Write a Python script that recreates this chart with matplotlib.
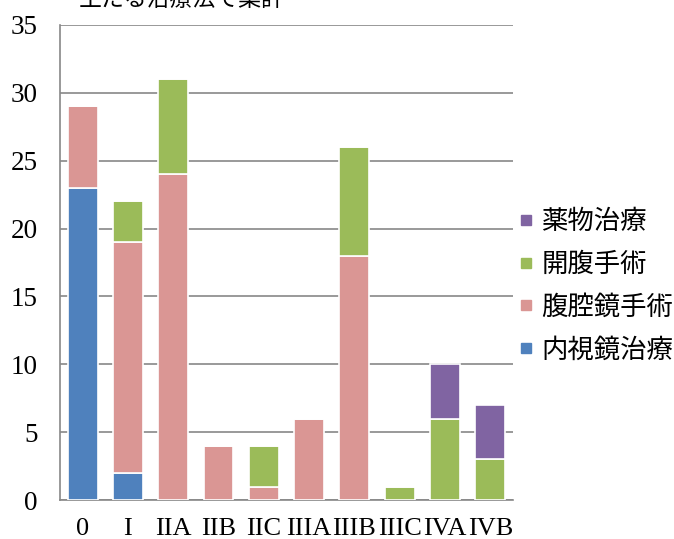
import numpy as np
import matplotlib
matplotlib.use('Agg')
from matplotlib import pyplot as plt
from matplotlib.lines import Line2D

plt.rcParams['font.family'] = ['Noto Sans CJK JP', 'DejaVu Sans']

stages = ['0', 'I', 'IIA', 'IIB', 'IIC', 'IIIA', 'IIIB', 'IIIC', 'IVA', 'IVB']
naishikyo = [23, 2, 0, 0, 0, 0, 0, 0, 0, 0]
fukukukyo = [6, 17, 24, 4, 1, 6, 18, 0, 0, 0]
kaifuku = [0, 3, 7, 0, 3, 0, 8, 1, 6, 3]
yakubutsu = [0, 0, 0, 0, 0, 0, 0, 0, 4, 4]

series = [
    ('内視鏡治療', naishikyo, '#4F81BD'),
    ('腹腔鏡手術', fukukukyo, '#DA9694'),
    ('開腹手術', kaifuku, '#9BBB59'),
    ('薬物治療', yakubutsu, '#8064A2'),
]

fig = plt.figure(figsize=(6.74, 5.39), dpi=100)
ax = fig.add_axes([0.089, 0.072, 0.672, 0.882])

x = np.arange(len(stages))
bottom = np.zeros(len(stages))
for name, vals, color in series:
    vals = np.array(vals, dtype=float)
    ax.bar(x, vals, 0.66, bottom=bottom, color=color, edgecolor='white',
           linewidth=1.2, label=name, zorder=3)
    bottom += vals

ax.set_xlim(-0.5, len(stages) - 0.5)
ax.set_ylim(0, 35)
ax.set_yticks(range(0, 36, 5))
ax.set_yticklabels([str(v) for v in range(0, 36, 5)],
                   family='Liberation Serif', fontsize=19.5)
ax.set_xticks(x)
ax.set_xticklabels(stages, family='Liberation Serif', fontsize=19)
ax.tick_params(axis='y', length=0, pad=16)
ax.tick_params(axis='x', length=0, pad=13)
ax.yaxis.grid(True, color='#888888', linewidth=1.2, zorder=0)
ax.set_axisbelow(True)
for s in ['top', 'right']:
    ax.spines[s].set_visible(False)
ax.spines['left'].set_color('#888888')
ax.spines['bottom'].set_color('#888888')
ax.spines['left'].set_linewidth(1.2)
ax.spines['bottom'].set_linewidth(1.2)

# square legend markers, top entry = last series
handles = [Line2D([], [], marker='s', linestyle='', color=c, markersize=6.5)
           for _, _, c in series][::-1]
fig.legend(handles, [s[0] for s in series][::-1], loc='center left',
           bbox_to_anchor=(0.772, 0.47), frameon=False, fontsize=19,
           borderaxespad=0, borderpad=0,
           handlelength=0.45, handletextpad=0.35,
           labelspacing=0.6)

fig.text(0.27, 1.0, '主たる治療法で集計', ha='center', va='center', fontsize=16.5)

fig.savefig('out.png', dpi=100)
